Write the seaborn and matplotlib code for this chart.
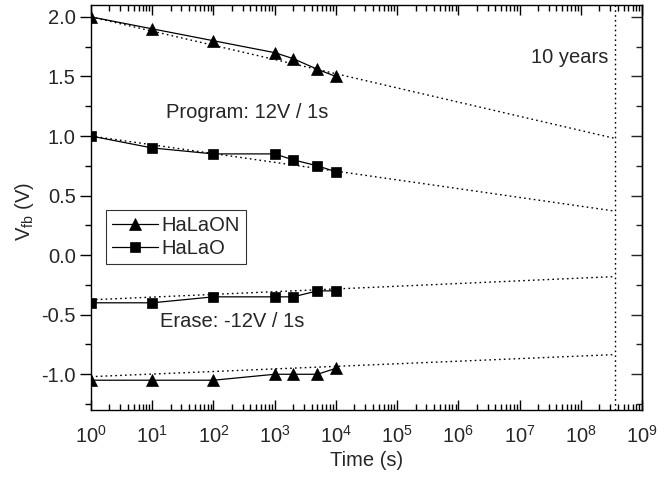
import numpy as np
import pandas as pd
import seaborn as sns
import matplotlib.pyplot as plt
from matplotlib.ticker import LogLocator, MultipleLocator, NullFormatter

# Data
TIME = [1, 10, 100, 1000, 2000, 5000, 10000]
HALAON_PROG = [2.0, 1.9, 1.8, 1.7, 1.65, 1.56, 1.5]
HALAO_PROG = [1.0, 0.9, 0.85, 0.85, 0.8, 0.75, 0.7]
HALAO_ERASE = [-0.4, -0.4, -0.35, -0.35, -0.35, -0.3, -0.3]
HALAON_ERASE = [-1.05, -1.05, -1.05, -1.0, -1.0, -1.0, -0.95]

# Extrapolation to ten years: start and end values
TEN_YEARS = 3.6e8
EXTRAP_T = [1, TEN_YEARS]
EXTRAP_HALAON_PROG = [2.0, 0.98]
EXTRAP_HALAO_PROG = [1.0, 0.37]
EXTRAP_HALAO_ERASE = [-0.375, -0.18]
EXTRAP_HALAON_ERASE = [-1.02, -0.835]

FS = 14.5


def main():
    sns.set_style("ticks")
    plt.rcParams['font.family'] = ['Liberation Sans', 'DejaVu Sans']
    plt.rcParams['mathtext.fontset'] = 'custom'
    plt.rcParams['mathtext.rm'] = 'Liberation Sans'
    plt.rcParams['mathtext.it'] = 'Liberation Sans'

    fig = plt.figure(figsize=(6.71, 4.78), dpi=100)
    ax = fig.add_axes([91 / 671, 68 / 478, 551 / 671, 405 / 478])

    series = [
        (HALAON_PROG, '^', 8.5, 'HaLaON'),
        (HALAO_PROG, 's', 6.5, 'HaLaO'),
        (HALAO_ERASE, 's', 6.5, None),
        (HALAON_ERASE, '^', 8.5, None),
    ]
    for vals, mk, ms, lab in series:
        df = pd.DataFrame({'t': TIME, 'v': vals})
        sns.lineplot(data=df, x='t', y='v', ax=ax, color='black', lw=0.9,
                     marker=mk, markersize=ms, markeredgewidth=0.5,
                     markeredgecolor='black', label=lab, legend=False)

    dots = (0, (1.2, 2.3))
    for ext in [EXTRAP_HALAON_PROG, EXTRAP_HALAO_PROG, EXTRAP_HALAO_ERASE, EXTRAP_HALAON_ERASE]:
        ax.plot(EXTRAP_T, ext, color='black', lw=1.0, ls=dots, zorder=1)
    ax.axvline(TEN_YEARS, color='black', lw=1.0, ls=dots)

    ax.set_xscale('log')
    ax.set_xlim(1, 1e9)
    ax.set_ylim(-1.3, 2.1)
    ax.xaxis.set_major_locator(LogLocator(base=10, numticks=20))
    ax.xaxis.set_minor_locator(LogLocator(base=10, subs=np.arange(2, 10), numticks=20))
    ax.xaxis.set_minor_formatter(NullFormatter())
    ax.yaxis.set_major_locator(MultipleLocator(0.5))
    ax.yaxis.set_minor_locator(MultipleLocator(0.25))
    ax.yaxis.set_major_formatter(plt.FuncFormatter(lambda v, p: f'{v:.1f}'))

    ax.tick_params(axis='x', which='both', direction='in', top=True, bottom=True,
                   labelsize=FS, color='black', width=1.0, pad=11)
    ax.tick_params(axis='x', which='major', length=7)
    ax.tick_params(axis='x', which='minor', length=4)
    ax.tick_params(axis='y', which='both', direction='out', left=True, right=False,
                   labelsize=FS, color='black', width=1.0, pad=3)
    ax.tick_params(axis='y', which='major', length=8)
    ax.tick_params(axis='y', which='minor', length=4)

    sec = ax.secondary_yaxis('right')
    sec.yaxis.set_major_locator(MultipleLocator(0.5))
    sec.yaxis.set_minor_locator(MultipleLocator(0.25))
    sec.tick_params(which='both', direction='in', labelright=False, width=1.0)
    sec.tick_params(which='major', length=8)
    sec.tick_params(which='minor', length=4)
    sec.spines['right'].set_linewidth(1.0)

    for sp in ax.spines.values():
        sp.set_linewidth(1.0)
        sp.set_color('black')
        sp.set_visible(True)

    ax.set_xlabel('Time (s)', fontsize=FS, labelpad=3)
    ax.set_ylabel(r'V$_{\mathrm{fb}}$ (V)', fontsize=FS)
    ax.yaxis.set_label_coords(-0.1, 0.49)

    ax.text(16.8, 1.2, 'Program: 12V / 1s', fontsize=FS, va='center', ha='left')
    ax.text(13.4, -0.56, 'Erase: -12V / 1s', fontsize=FS, va='center', ha='left')
    ax.text(2.8e8, 1.66, '10 years', fontsize=FS, va='center', ha='right')

    leg = ax.legend(loc='upper left', bbox_to_anchor=(0.027, 0.495), fontsize=FS,
                    frameon=True, fancybox=False, edgecolor='black', handlelength=2.3,
                    borderpad=0.3, labelspacing=0.2, handletextpad=0.15,
                    borderaxespad=0)
    leg.get_frame().set_linewidth(0.8)

    fig.savefig('out.png', dpi=100, facecolor='white')
    plt.close()


if __name__ == "__main__":
    main()
